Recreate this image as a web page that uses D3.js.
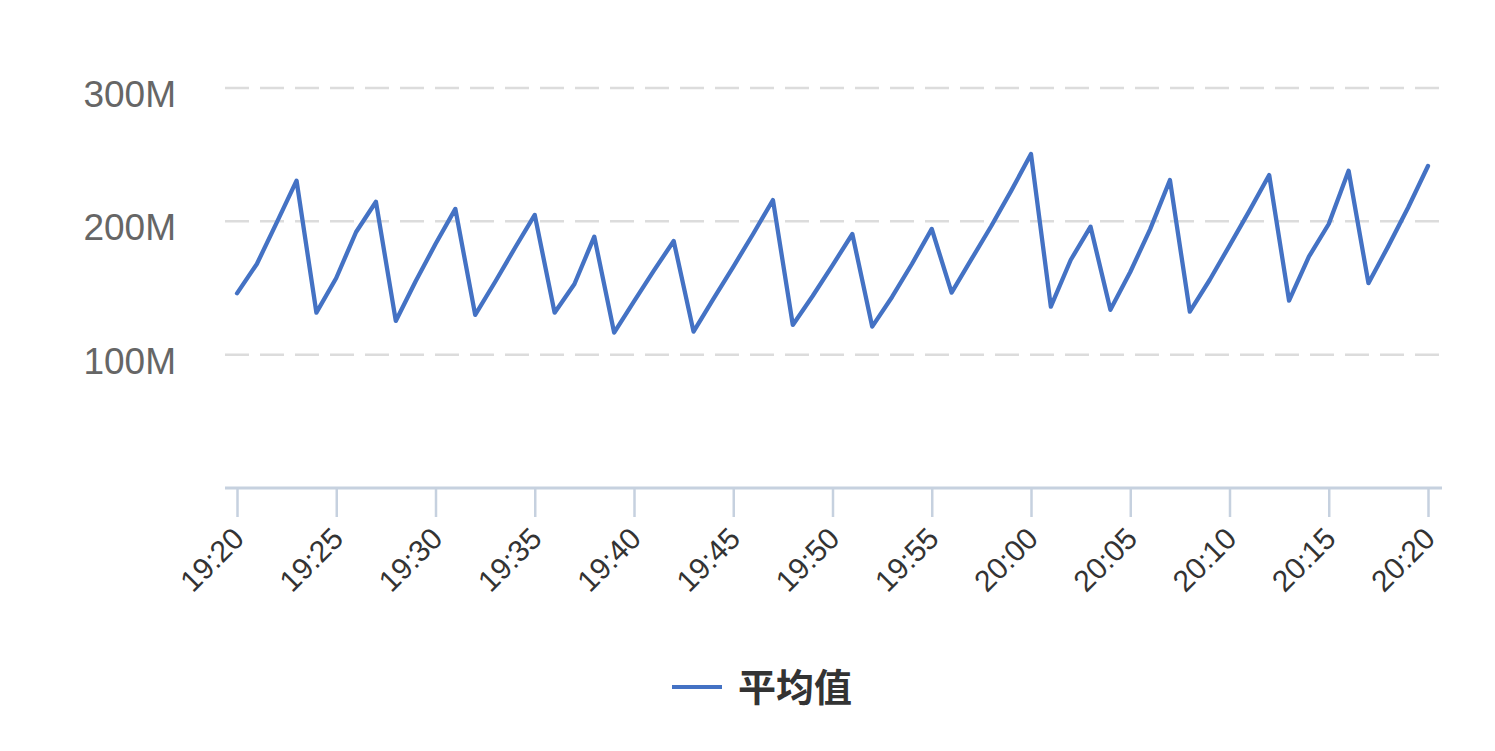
<!DOCTYPE html>
<html><head><meta charset="utf-8">
<script src="https://cdn.jsdelivr.net/npm/d3@7"></script>
<style>html,body{margin:0;padding:0;background:#fff;}svg{display:block;}</style>
</head><body>
<svg id="chart" width="1495" height="751"></svg>
<script>
const startTime = "19:20";
const endTime = "20:20";
// one value per minute, in millions
const values = [146,168,199,230.5,131.5,157.5,192,214.7,125.3,155,183,209.3,129.8,154.5,180,204.8,131.5,153,188.5,116.5,140,163,185.3,117.3,141.8,165.9,190.5,216,122.3,144,167,190.5,121,143.3,168,194.3,146.5,171.6,196.5,222.8,250.5,136,171,196,133.6,162,194,231,132.3,156,181.8,207.8,234.7,140.5,173.5,198,238,153.6,181.4,210.4,241.5];
const yTicks = [100,200,300];
const seriesName = "平均值";

const svg = d3.select("#chart");
const parse = d3.timeParse("%H:%M");
const t0 = parse(startTime), t1 = parse(endTime);
const times = values.map((v,i)=>d3.timeMinute.offset(t0,i));

const x = d3.scaleTime().domain([t0,t1]).range([237,1428]);
const y = d3.scaleLinear().domain([0,300]).range([488,88]);
const axisL = 225, axisR = 1442;

// gridlines
svg.append("g").selectAll("line").data(yTicks).join("line")
  .attr("x1",axisL).attr("x2",axisR)
  .attr("y1",d=>y(d)).attr("y2",d=>y(d))
  .attr("stroke","#dcdcdc").attr("stroke-width",2.5).attr("stroke-dasharray","24,11");

// y labels
svg.append("g").selectAll("text").data(yTicks).join("text")
  .attr("x",176).attr("y",d=>y(d)+19)
  .attr("text-anchor","end")
  .attr("font-family","'Liberation Sans', Arial, Helvetica, sans-serif")
  .attr("font-size",37).attr("fill","#666")
  .text(d=>d+"M");

// x axis
const xAxis = d3.axisBottom(x).ticks(d3.timeMinute.every(5)).tickFormat(d3.timeFormat("%H:%M")).tickSize(29).tickPadding(0);
const gx = svg.append("g").attr("transform","translate(0,488)").call(xAxis);
gx.select(".domain").remove();
gx.selectAll(".tick line").attr("stroke","#c6d1df").attr("stroke-width",2.5);
gx.append("line").attr("x1",axisL).attr("x2",axisR).attr("y1",0).attr("y2",0)
  .attr("stroke","#c6d1df").attr("stroke-width",3);
gx.selectAll(".tick text")
  .attr("font-family","'Liberation Sans', Arial, Helvetica, sans-serif")
  .attr("font-size",30).attr("fill","#333")
  .attr("text-anchor","end")
  .attr("dy","0.35em")
  .attr("transform","translate(1,45) rotate(-45)")
  .attr("y",0);

// line
const line = d3.line().x((d,i)=>x(times[i])).y(d=>y(d));
svg.append("path").datum(values)
  .attr("d",line).attr("fill","none")
  .attr("stroke","#4472c4").attr("stroke-width",4.3).attr("stroke-linejoin","round").attr("stroke-linecap","round");

// legend
const lg = svg.append("g");
lg.append("line").attr("x1",672).attr("x2",722).attr("y1",687).attr("y2",687)
  .attr("stroke","#4472c4").attr("stroke-width",4);
lg.append("text").attr("x",738).attr("y",687).attr("dy","0.36em")
  .attr("font-family","'Noto Sans CJK SC', sans-serif").attr("font-weight","bold")
  .attr("font-size",38).attr("fill","#333").text(seriesName);
</script>
</body></html>
